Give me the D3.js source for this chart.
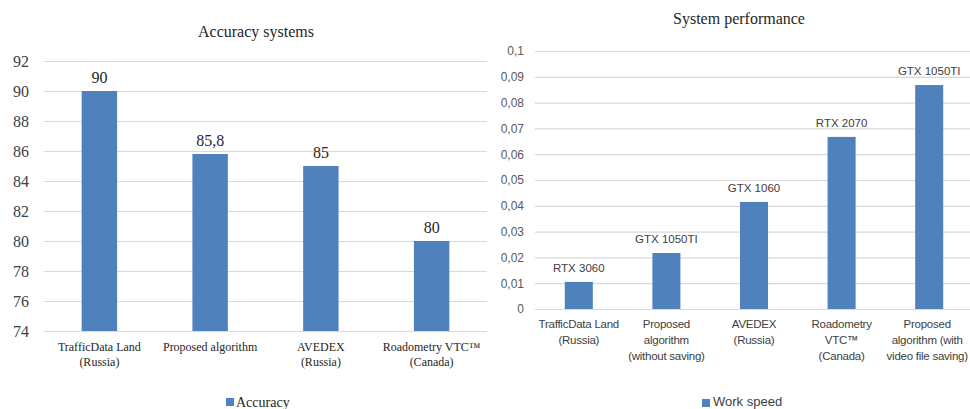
<!DOCTYPE html>
<html>
<head>
<meta charset="utf-8">
<script src="https://cdn.jsdelivr.net/npm/d3@7"></script>
<style>
body { margin: 0; background: #fff; }
svg { display: block; }
.serif { font-family: "Liberation Serif", "Times New Roman", serif; }
.sans { font-family: "Liberation Sans", Arial, sans-serif; }
</style>
</head>
<body>
<div id="vis"></div>
<script>
var w = 970;
var h = 409;

// data - accuracy
var accLabels = [["TrafficData Land", "(Russia)"], ["Proposed algorithm"], ["AVEDEX", "(Russia)"], ["Roadometry VTC\u2122", "(Canada)"]];
var accValues = [90, 85.8, 85, 80];
var accTicks = [74, 76, 78, 80, 82, 84, 86, 88, 90, 92];

// data - work speed
var speedLabels = [["TrafficData Land", "(Russia)"], ["Proposed", "algorithm", "(without saving)"], ["AVEDEX", "(Russia)"], ["Roadometry", "VTC\u2122", "(Canada)"], ["Proposed", "algorithm (with", "video file saving)"]];
var speedValues = [0.0105, 0.0217, 0.0415, 0.0667, 0.0868];
var speedGpu = ["RTX 3060", "GTX 1050TI", "GTX 1060", "RTX 2070", "GTX 1050TI"];
var speedTicks = [0, 0.01, 0.02, 0.03, 0.04, 0.05, 0.06, 0.07, 0.08, 0.09, 0.1];

var barColor = "#4f81bd";
var gridColor = "#d9d9d9";

function comma(v) { return String(+v.toFixed(4)).replace(".", ","); }

var svg = d3.select("#vis")
    .append("svg")
    .attr("width", w)
    .attr("height", h);

//links: Accuracy systems
var x1 = d3.scaleBand()
    .domain(d3.range(accValues.length))
    .range([44, 487])
    .paddingInner(0.68)
    .paddingOuter(0.34);
var y1 = d3.scaleLinear().domain([74, 92]).range([331, 61]);

var g1 = svg.append("g").attr("class", "serif");

g1.append("g")
    .call(d3.axisLeft(y1).tickValues(accTicks).tickSize(-(487 - 44)).tickPadding(15).tickFormat(comma))
    .attr("transform", "translate(44,0)")
    .call(function(g) {
        g.select(".domain").remove();
        g.selectAll("line").attr("stroke", gridColor).attr("stroke-width", 1.2);
        g.selectAll("text").attr("fill", "#404040").style("font-size", "16px").style("font-family", "Liberation Serif");
    });

g1.selectAll("rect")
    .data(accValues)
    .enter()
    .append("rect")
    .attr("x", function(d, i) { return x1(i); })
    .attr("y", function(d) { return y1(d); })
    .attr("width", x1.bandwidth())
    .attr("height", function(d) { return y1(74) - y1(d); })
    .attr("fill", barColor);

g1.selectAll(".val")
    .data(accValues)
    .enter()
    .append("text")
    .attr("class", "val")
    .attr("x", function(d, i) { return x1(i) + x1.bandwidth() / 2; })
    .attr("y", function(d) { return y1(d) - 8; })
    .attr("text-anchor", "middle")
    .attr("fill", "#262626")
    .style("font-size", "16px")
    .text(function(d) { return comma(d); });

g1.selectAll(".xlab")
    .data(accLabels)
    .enter()
    .append("text")
    .attr("class", "xlab")
    .attr("text-anchor", "middle")
    .attr("fill", "#262626")
    .style("font-size", "12px")
    .each(function(d, i) {
        var t = d3.select(this);
        d.forEach(function(line, j) {
            t.append("tspan")
                .attr("x", x1(i) + x1.bandwidth() / 2)
                .attr("y", 351 + j * 15)
                .text(line);
        });
    });

g1.append("text")
    .text("Accuracy systems")
    .attr("x", 256)
    .attr("y", 37)
    .attr("text-anchor", "middle")
    .attr("fill", "#262626")
    .style("font-size", "16px");

g1.append("rect").attr("x", 226).attr("y", 398).attr("width", 8).attr("height", 8).attr("fill", barColor);
g1.append("text").text("Accuracy").attr("x", 236).attr("y", 407).attr("fill", "#262626").style("font-size", "14px");

//rechts: System performance
var x2 = d3.scaleBand()
    .domain(d3.range(speedValues.length))
    .range([535, 973])
    .paddingInner(0.68)
    .paddingOuter(0.34);
var y2 = d3.scaleLinear().domain([0, 0.1]).range([309, 51]);

var g2 = svg.append("g").attr("class", "sans");

g2.append("g")
    .call(d3.axisLeft(y2).tickValues(speedTicks).tickSize(-(w - 535)).tickPadding(11).tickFormat(comma))
    .attr("transform", "translate(535,0)")
    .call(function(g) {
        g.select(".domain").remove();
        g.selectAll("line").attr("stroke", gridColor).attr("stroke-width", 1.2);
        g.selectAll("text").attr("fill", "#595959").style("font-size", "12px").style("font-family", "Liberation Sans");
    });

g2.selectAll("rect")
    .data(speedValues)
    .enter()
    .append("rect")
    .attr("x", function(d, i) { return x2(i); })
    .attr("y", function(d) { return y2(d); })
    .attr("width", x2.bandwidth())
    .attr("height", function(d) { return y2(0) - y2(d); })
    .attr("fill", barColor);

g2.selectAll(".gpu")
    .data(speedValues)
    .enter()
    .append("text")
    .attr("class", "gpu")
    .attr("x", function(d, i) { return x2(i) + x2.bandwidth() / 2; })
    .attr("y", function(d) { return y2(d) - 10; })
    .attr("text-anchor", "middle")
    .attr("fill", "#404040")
    .style("font-size", "11.5px")
    .text(function(d, i) { return speedGpu[i]; });

g2.selectAll(".xlab")
    .data(speedLabels)
    .enter()
    .append("text")
    .attr("class", "xlab")
    .attr("text-anchor", "middle")
    .attr("fill", "#404040")
    .style("font-size", "11.5px")
    .style("letter-spacing", "-0.25px")
    .each(function(d, i) {
        var t = d3.select(this);
        d.forEach(function(line, j) {
            t.append("tspan")
                .attr("x", x2(i) + x2.bandwidth() / 2 - (i == 4 ? 2 : 0))
                .attr("y", 328 + j * 16)
                .text(line);
        });
    });

g2.append("text")
    .text("System performance")
    .attr("x", 739)
    .attr("y", 24)
    .attr("text-anchor", "middle")
    .attr("fill", "#262626")
    .style("font-size", "16px")
    .style("font-family", "Liberation Serif");

g2.append("rect").attr("x", 702).attr("y", 399).attr("width", 8).attr("height", 8).attr("fill", barColor);
g2.append("text").text("Work speed").attr("x", 713).attr("y", 406).attr("fill", "#404040").style("font-size", "13px");
</script>
</body>
</html>
